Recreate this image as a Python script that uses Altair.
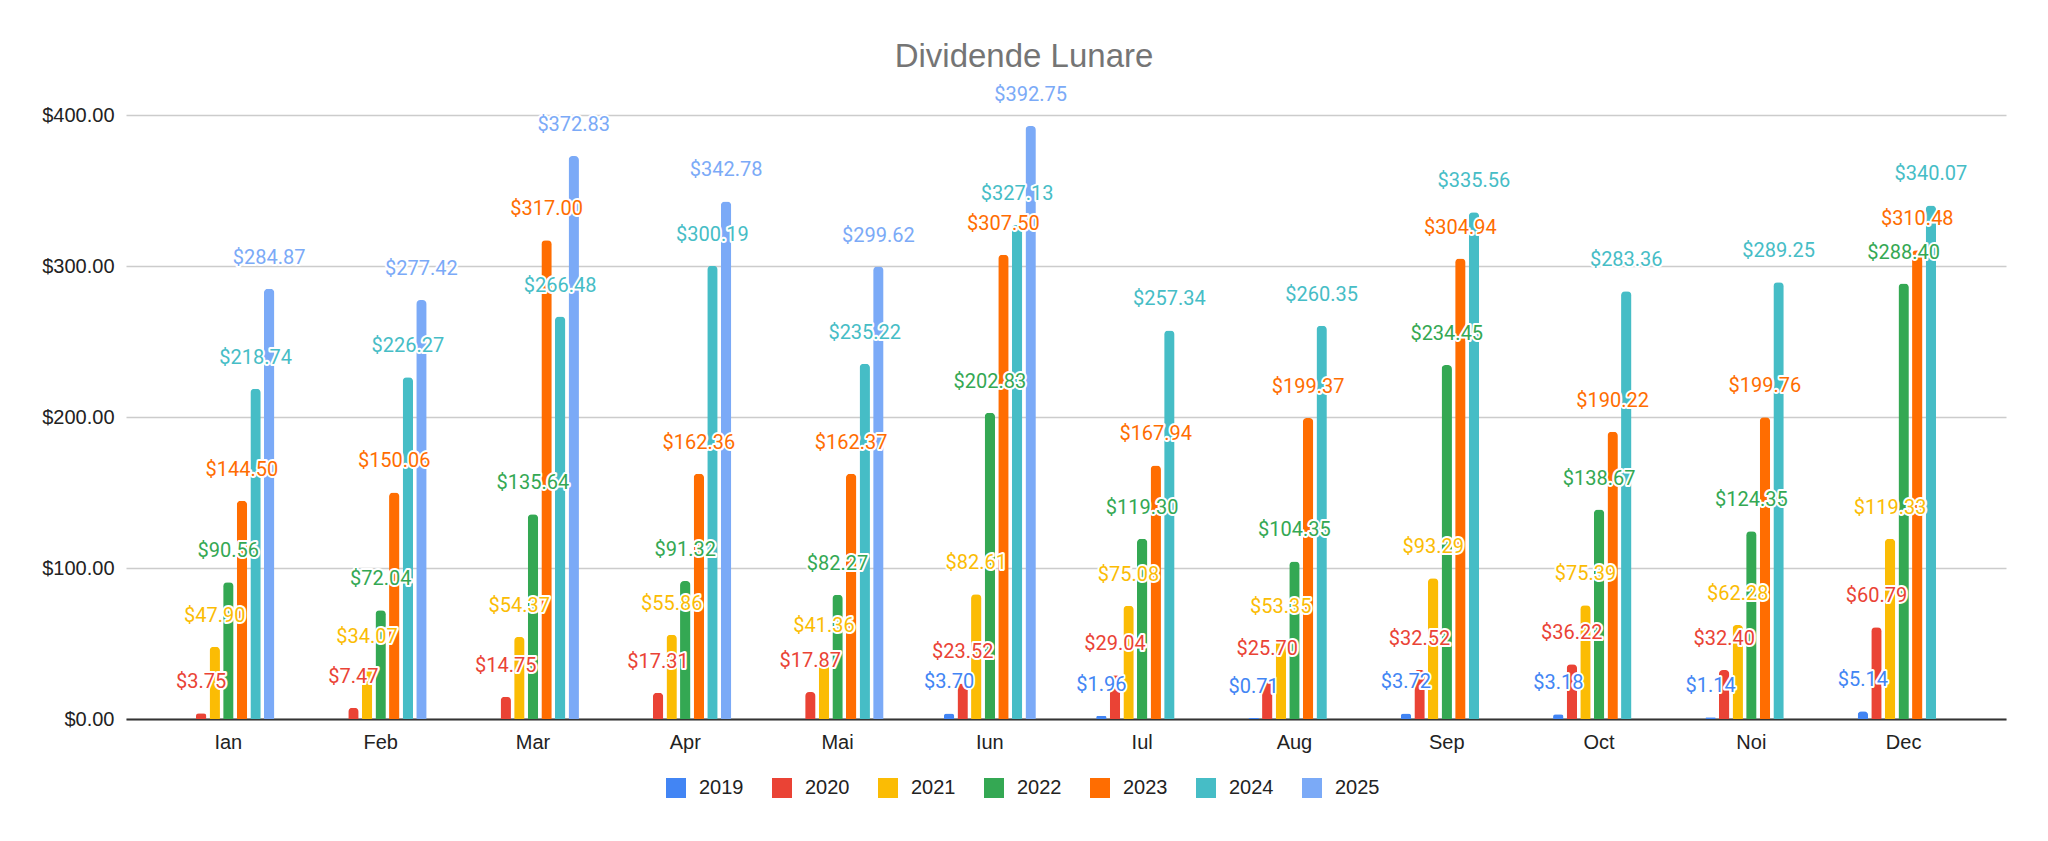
import altair as alt
import pandas as pd

months = ["Ian", "Feb", "Mar", "Apr", "Mai", "Iun", "Iul", "Aug", "Sep", "Oct", "Noi", "Dec"]
years = ["2019", "2020", "2021", "2022", "2023", "2024", "2025"]
colors = ["#4285F4", "#EA4335", "#FBBC04", "#34A853", "#FF6D01", "#46BDC6", "#7BAAF7"]

v2019 = [None, None, None, None, None, 3.70, 1.96, 0.71, 3.72, 3.18, 1.14, 5.14]
v2020 = [3.75, 7.47, 14.75, 17.31, 17.87, 23.52, 29.04, 25.70, 32.52, 36.22, 32.40, 60.79]
v2021 = [47.90, 34.07, 54.37, 55.86, 41.36, 82.61, 75.08, 53.35, 93.29, 75.39, 62.28, 119.33]
v2022 = [90.56, 72.04, 135.64, 91.32, 82.27, 202.83, 119.30, 104.35, 234.45, 138.67, 124.35, 288.40]
v2023 = [144.50, 150.06, 317.00, 162.36, 162.37, 307.50, 167.94, 199.37, 304.94, 190.22, 199.76, 310.48]
v2024 = [218.74, 226.27, 266.48, 300.19, 235.22, 327.13, 257.34, 260.35, 335.56, 283.36, 289.25, 340.07]
v2025 = [284.87, 277.42, 372.83, 342.78, 299.62, 392.75, None, None, None, None, None, None]

series = [v2019, v2020, v2021, v2022, v2023, v2024, v2025]
rows = []
for yr, vals in zip(years, series):
    for m, v in zip(months, vals):
        if v is not None:
            rows.append({"month": m, "year": yr, "value": v})
df = pd.DataFrame(rows)

AX_FONT = "Liberation Sans"

x_enc = alt.X(
    "month:N",
    sort=months,
    scale=alt.Scale(domain=months, paddingInner=0.396, paddingOuter=0.37),
    axis=alt.Axis(
        title=None, labelAngle=0, ticks=False, tickSize=0, labelPadding=13,
        labelFont=AX_FONT, labelFontSize=20, labelColor="#222222",
        domainColor="#333333", domainWidth=2, grid=False,
    ),
)
xo_enc = alt.XOffset(
    "year:N", sort=years,
    scale=alt.Scale(domain=years, paddingInner=0.235, paddingOuter=0),
)
y_enc = alt.Y(
    "value:Q",
    scale=alt.Scale(domain=[0, 400], nice=False),
    axis=alt.Axis(
        title=None, values=[0, 100, 200, 300, 400], format="$,.2f",
        ticks=False, tickSize=0, domain=False, labelPadding=12,
        labelFont=AX_FONT, labelFontSize=20, labelColor="#222222",
        gridColor="#cccccc", gridWidth=1.5,
    ),
)
color_scale = alt.Scale(domain=years, range=colors)

base = alt.Chart(df)

bars = base.mark_bar(cornerRadiusTopLeft=4, cornerRadiusTopRight=4).encode(
    x=x_enc,
    xOffset=xo_enc,
    y=y_enc,
    color=alt.Color(
        "year:N", scale=color_scale,
        legend=alt.Legend(
            orient="none", legendX=540, legendY=663, direction="horizontal",
            title=None, symbolType="square", symbolSize=400, symbolStrokeWidth=0,
            symbolOpacity=1, labelFont=AX_FONT, labelFontSize=20, labelColor="#222222",
            labelOffset=13, columnPadding=28,
        ),
    ),
)

halo = base.mark_text(
    font="Roboto", fontSize=20, baseline="alphabetic", dy=-25,
    stroke="white", strokeWidth=4, strokeJoin="round", fill="white",
).encode(
    x=x_enc, xOffset=xo_enc, y=y_enc,
    text=alt.Text("value:Q", format="$,.2f"),
)

labels = base.mark_text(
    font="Roboto", fontSize=20, baseline="alphabetic", dy=-25,
).encode(
    x=x_enc, xOffset=xo_enc, y=y_enc,
    text=alt.Text("value:Q", format="$,.2f"),
    color=alt.Color("year:N", scale=color_scale, legend=None),
)

chart = alt.layer(bars, halo, labels).properties(
    width=1880,
    height=604,
    background="white",
    title=alt.TitleParams(
        "Dividende Lunare", font=AX_FONT, fontSize=33, fontWeight="normal",
        color="#757575", anchor="middle", frame="group", offset=11, dx=-42,
    ),
    autosize=alt.AutoSizeParams(type="none"),
    padding={"left": 118, "top": 107, "right": 30, "bottom": 110},
).configure_view(stroke=None)

chart.save("out.html", embed_options={"renderer": "svg", "actions": False})
